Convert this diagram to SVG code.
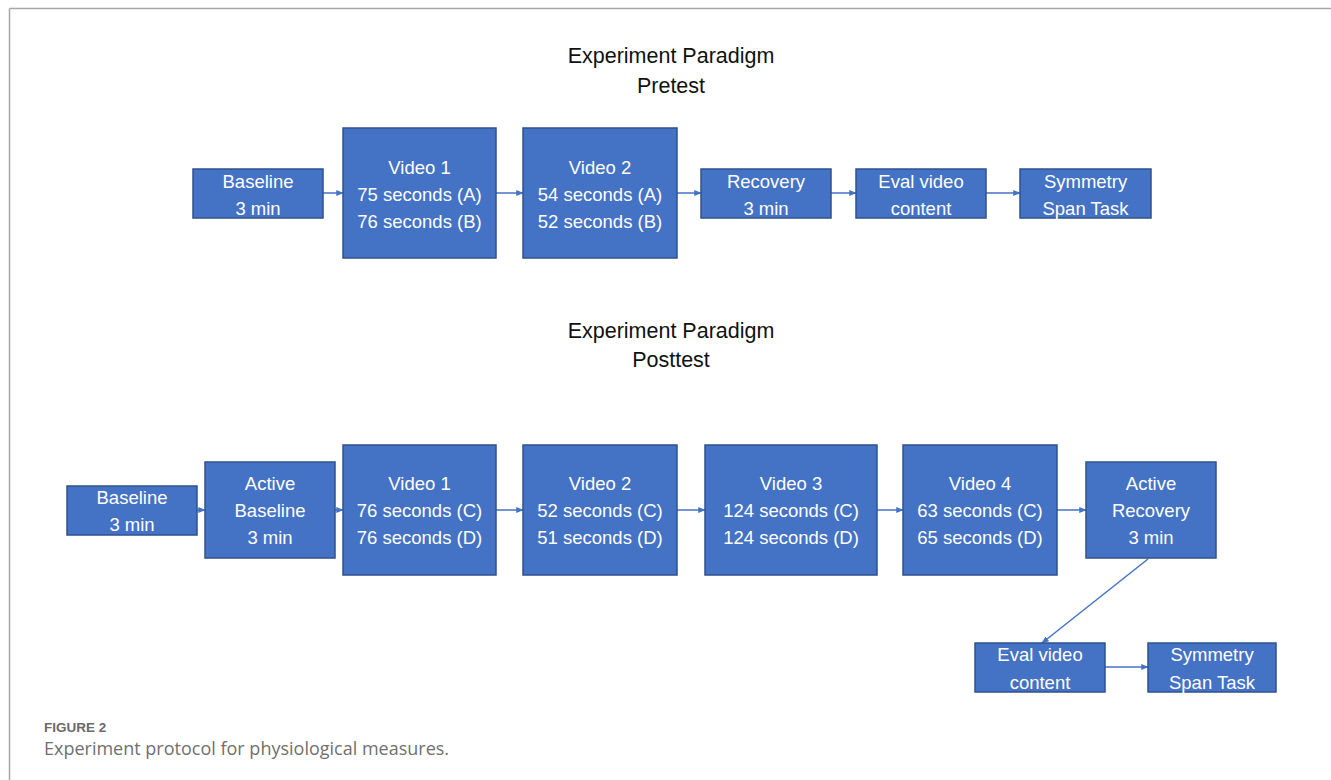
<svg xmlns="http://www.w3.org/2000/svg" width="1331" height="780" viewBox="0 0 1331 780">
<style>
.box{fill:#4472C4;stroke:#2F528F;stroke-width:1.5}
.t{font-family:"Liberation Sans",Arial,sans-serif;font-size:18.5px;fill:#ffffff;text-anchor:middle}
.title{font-family:"Liberation Sans",Arial,sans-serif;font-size:21.5px;fill:#111111;text-anchor:middle}
.c{stroke:#4472C4;stroke-width:1.5;fill:none;marker-end:url(#ah)}
</style>
<defs>
<marker id="ah" viewBox="0 0 10 10" refX="9" refY="5" markerWidth="5" markerHeight="5" markerUnits="strokeWidth" orient="auto">
<path d="M0,1 L10,5 L0,9 z" fill="#4472C4"/>
</marker>
</defs>
<rect width="1331" height="780" fill="#ffffff"/>
<g id="frame">
<line x1="9.5" y1="8.5" x2="1331" y2="8.5" stroke="#a6a6a6" stroke-width="1.5"/>
<line x1="9.5" y1="8.5" x2="9.5" y2="780" stroke="#a6a6a6" stroke-width="1.5"/>
</g>
<g id="titles">
<text class="title" x="671" y="63">Experiment Paradigm</text>
<text class="title" x="671" y="93">Pretest</text>
<text class="title" x="671" y="338">Experiment Paradigm</text>
<text class="title" x="671" y="367">Posttest</text>
</g>
<g id="connectors">
<line class="c" x1="323" y1="193" x2="343" y2="193"/>
<line class="c" x1="496" y1="193" x2="523" y2="193"/>
<line class="c" x1="677" y1="193" x2="701" y2="193"/>
<line class="c" x1="831" y1="193" x2="856" y2="193"/>
<line class="c" x1="986" y1="193" x2="1020" y2="193"/>
<line class="c" x1="197" y1="510" x2="205" y2="510"/>
<line class="c" x1="335" y1="510" x2="343" y2="510"/>
<line class="c" x1="496" y1="510" x2="523" y2="510"/>
<line class="c" x1="677" y1="510" x2="705" y2="510"/>
<line class="c" x1="877" y1="510" x2="903" y2="510"/>
<line class="c" x1="1057" y1="510" x2="1086" y2="510"/>
<line class="c" x1="1148" y1="559" x2="1042" y2="643"/>
<line class="c" x1="1105" y1="667" x2="1148" y2="667"/>
</g>
<g id="pre-baseline"><rect class="box" x="193" y="169" width="130" height="49"/><text class="t" x="258" y="187.5">Baseline</text><text class="t" x="258" y="214.5">3 min</text></g>
<g id="pre-video1"><rect class="box" x="343" y="128" width="153" height="130"/><text class="t" x="419.5" y="173.5">Video 1</text><text class="t" x="419.5" y="200.5">75 seconds (A)</text><text class="t" x="419.5" y="227.5">76 seconds (B)</text></g>
<g id="pre-video2"><rect class="box" x="523" y="128" width="154" height="130"/><text class="t" x="600" y="173.5">Video 2</text><text class="t" x="600" y="200.5">54 seconds (A)</text><text class="t" x="600" y="227.5">52 seconds (B)</text></g>
<g id="pre-recovery"><rect class="box" x="701" y="169" width="130" height="49"/><text class="t" x="766" y="187.5">Recovery</text><text class="t" x="766" y="214.5">3 min</text></g>
<g id="pre-eval"><rect class="box" x="856" y="169" width="130" height="49"/><text class="t" x="921" y="187.5">Eval video</text><text class="t" x="921" y="214.5">content</text></g>
<g id="pre-symmetry"><rect class="box" x="1020" y="169" width="131" height="49"/><text class="t" x="1085.5" y="187.5">Symmetry</text><text class="t" x="1085.5" y="214.5">Span Task</text></g>
<g id="post-baseline"><rect class="box" x="67" y="486" width="130" height="49"/><text class="t" x="132" y="504">Baseline</text><text class="t" x="132" y="531">3 min</text></g>
<g id="post-active-baseline"><rect class="box" x="205" y="462" width="130" height="96"/><text class="t" x="270" y="490">Active</text><text class="t" x="270" y="517">Baseline</text><text class="t" x="270" y="544">3 min</text></g>
<g id="post-video1"><rect class="box" x="343" y="445" width="153" height="130"/><text class="t" x="419.5" y="490">Video 1</text><text class="t" x="419.5" y="517">76 seconds (C)</text><text class="t" x="419.5" y="544">76 seconds (D)</text></g>
<g id="post-video2"><rect class="box" x="523" y="445" width="154" height="130"/><text class="t" x="600" y="490">Video 2</text><text class="t" x="600" y="517">52 seconds (C)</text><text class="t" x="600" y="544">51 seconds (D)</text></g>
<g id="post-video3"><rect class="box" x="705" y="445" width="172" height="130"/><text class="t" x="791" y="490">Video 3</text><text class="t" x="791" y="517">124 seconds (C)</text><text class="t" x="791" y="544">124 seconds (D)</text></g>
<g id="post-video4"><rect class="box" x="903" y="445" width="154" height="130"/><text class="t" x="980" y="490">Video 4</text><text class="t" x="980" y="517">63 seconds (C)</text><text class="t" x="980" y="544">65 seconds (D)</text></g>
<g id="post-active-recovery"><rect class="box" x="1086" y="462" width="130" height="96"/><text class="t" x="1151" y="490">Active</text><text class="t" x="1151" y="517">Recovery</text><text class="t" x="1151" y="544">3 min</text></g>
<g id="post-eval"><rect class="box" x="975" y="643" width="130" height="49"/><text class="t" x="1040" y="661">Eval video</text><text class="t" x="1040" y="688.5">content</text></g>
<g id="post-symmetry"><rect class="box" x="1148" y="643" width="128" height="49"/><text class="t" x="1212" y="661">Symmetry</text><text class="t" x="1212" y="688.5">Span Task</text></g>
<g id="caption">
<text x="44" y="732" font-family="Liberation Sans,Arial,sans-serif" font-size="13.5px" font-weight="bold" fill="#6a6a6a">FIGURE 2</text>
<text x="44" y="755" font-family="Open Sans,Liberation Sans,sans-serif" font-size="18px" fill="#707070">Experiment protocol for physiological measures.</text>
</g>
</svg>
